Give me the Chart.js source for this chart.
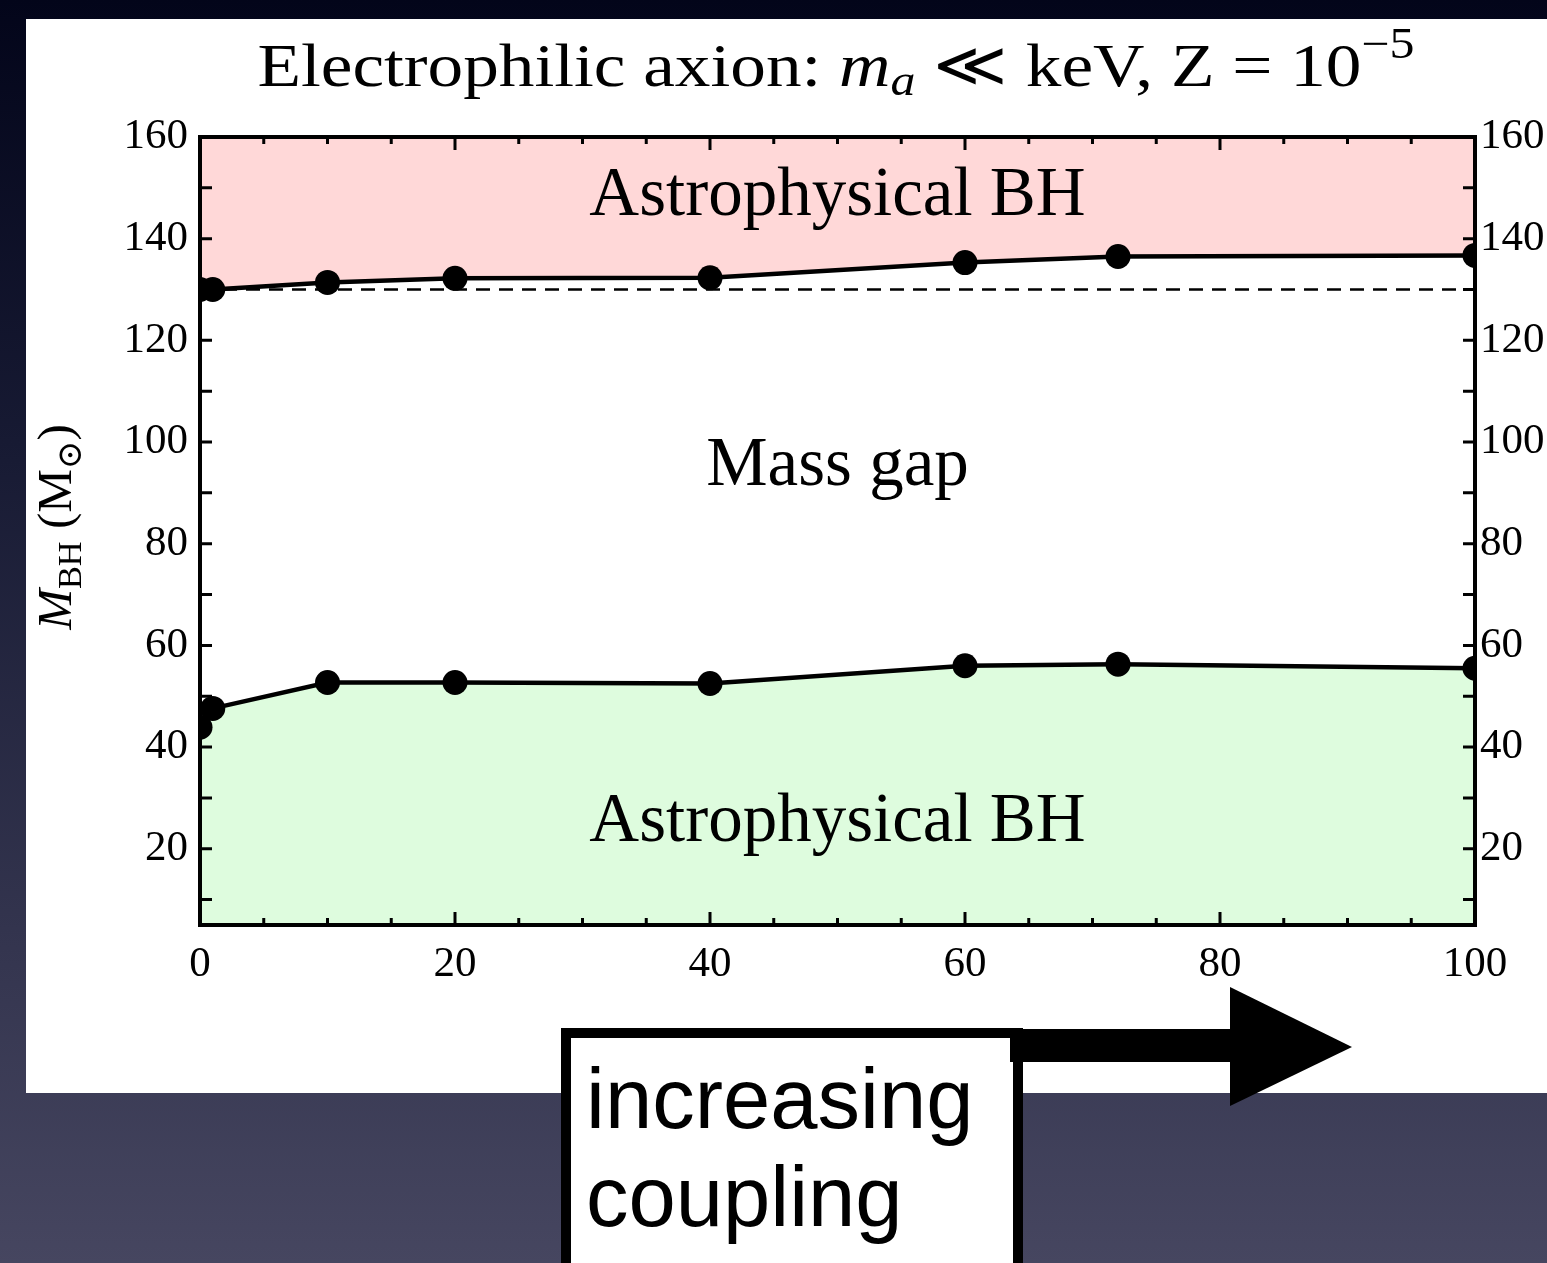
<!DOCTYPE html>
<html>
<head>
<meta charset="utf-8">
<script src="https://cdn.jsdelivr.net/npm/chart.js@4.4.0/dist/chart.umd.min.js"></script>
<style>
html, body { margin: 0; padding: 0; }
body {
    width: 1547px; height: 1263px; overflow: hidden; position: relative;
    background: linear-gradient(#03051a 0%, #171a33 35%, #34354f 75%, #464660 100%);
}
#panel { position: absolute; left: 26px; top: 19px; width: 1521px; height: 1074px; background: #fff; }
#wrap { position: absolute; left: 0; top: 0; width: 1547px; height: 1263px; }
#box {
    position: absolute; left: 561px; top: 1028px; width: 427px; height: 260px;
    border: 10px solid #000; background: #fff;
    font-family: "Liberation Sans", Arial, sans-serif; font-size: 85px; line-height: 98px;
    color: #000; padding-left: 15px; box-sizing: content-box;
}
#box div { margin-top: 12px; }
#arrow { position: absolute; left: 1005px; top: 980px; }
</style>
</head>
<body>
<div id="panel"></div>
<div id="wrap"><canvas id="chart" width="1547" height="1263"></canvas></div>
<div id="box"><div>increasing<br>coupling</div></div>
<svg id="arrow" width="360" height="135">
    <rect x="5" y="49" width="225" height="33" fill="#000"/>
    <polygon points="225,7 347,67 225,126" fill="#000"/>
</svg>
<script>
// values
const couplingX = [0, 1, 10, 20, 40, 60, 72, 100];
const upperEdge = [130.0, 130.0, 131.4, 132.2, 132.3, 135.3, 136.5, 136.7];
const lowerEdge = [43.9, 47.6, 52.7, 52.7, 52.5, 56.0, 56.3, 55.5];
const upperRef = 130;
const lowerRef = 44;
const xRange = [0, 100];
const yRange = [5, 160];
const yTickValues = [20, 40, 60, 80, 100, 120, 140, 160];

const serif = '"Liberation Serif", "DejaVu Serif", serif';

const toPoints = (xs, ys) => xs.map((x, i) => ({x: x, y: ys[i]}));
const flatLine = (v) => xRange.map(x => ({x: x, y: v}));

// draws a run of text pieces (italic, sub/superscript) starting at x
function drawRich(ctx, parts, x, y, size) {
    let cx = x;
    parts.forEach(p => {
        const s = size * (p.scale || 1);
        ctx.font = (p.italic ? 'italic ' : '') + s + 'px ' + serif;
        ctx.fillText(p.t, cx, y + (p.dy || 0) * size);
        cx += ctx.measureText(p.t).width;
    });
}
function richWidth(ctx, parts, size) {
    let w = 0;
    parts.forEach(p => {
        ctx.font = (p.italic ? 'italic ' : '') + size * (p.scale || 1) + 'px ' + serif;
        w += ctx.measureText(p.t).width;
    });
    return w;
}

const titleParts = [
    {t: 'Electrophilic axion: '},
    {t: 'm', italic: true},
    {t: 'a', italic: true, scale: 0.7, dy: 0.15},
    {t: ' \u226A keV, Z = 10'},
    {t: '\u22125', scale: 0.7, dy: -0.45}
];
const yTitleParts = [
    {t: 'M', italic: true},
    {t: 'BH', scale: 0.7, dy: 0.2},
    {t: ' (M'},
    {t: '\u2299', scale: 0.7, dy: 0.2},
    {t: ')'}
];

const framePlugin = {
    id: 'frame',
    afterDatasetsDraw(chart) {
        const ctx = chart.ctx;
        const a = chart.chartArea;
        const xs = chart.scales.x, ys = chart.scales.y;
        ctx.save();
        ctx.strokeStyle = '#000';
        ctx.lineWidth = 3;
        ctx.beginPath();
        for (let v = xRange[0]; v <= xRange[1]; v += 5) {
            const px = xs.getPixelForValue(v);
            const len = v % 20 === 0 ? 13 : 7;
            ctx.moveTo(px, a.bottom); ctx.lineTo(px, a.bottom - len);
            ctx.moveTo(px, a.top); ctx.lineTo(px, a.top + len);
        }
        for (let v = 10; v <= yRange[1]; v += 10) {
            const py = ys.getPixelForValue(v);
            ctx.moveTo(a.left, py); ctx.lineTo(a.left + 12, py);
            ctx.moveTo(a.right, py); ctx.lineTo(a.right - 12, py);
        }
        ctx.stroke();
        ctx.lineWidth = 4;
        ctx.strokeRect(a.left, a.top, a.right - a.left, a.bottom - a.top);

        // region labels
        ctx.fillStyle = '#000';
        ctx.textAlign = 'center';
        ctx.textBaseline = 'alphabetic';
        ctx.font = '69px ' + serif;
        const mid = xs.getPixelForValue(50);
        ctx.fillText('Astrophysical BH', mid, ys.getPixelForValue(144.6));
        ctx.fillText('Mass gap', mid, ys.getPixelForValue(91.6));
        ctx.fillText('Astrophysical BH', mid, ys.getPixelForValue(21.6));

        // title: the figure's serif is wider than Times, so stretch it a bit
        ctx.textAlign = 'left';
        const tSize = 62;
        const plain = richWidth(ctx, titleParts, tSize);
        ctx.save();
        ctx.translate(836, 86);
        ctx.scale(1157 / plain, 1);
        drawRich(ctx, titleParts, -plain / 2, 0, tSize);
        ctx.restore();

        // y axis title
        ctx.translate(71, 527);
        ctx.rotate(-Math.PI / 2);
        const ySize = 49;
        const yw = richWidth(ctx, yTitleParts, ySize);
        drawRich(ctx, yTitleParts, -yw / 2, 0, ySize);
        ctx.restore();
    }
};

const tickFont = {family: serif, size: 43};
const fixedTicks = (scale) => { scale.ticks = yTickValues.map(v => ({value: v})); };

new Chart(document.getElementById('chart'), {
    type: 'line',
    data: {
        datasets: [
            {
                data: toPoints(couplingX, upperEdge),
                borderColor: '#000', borderWidth: 4.5,
                backgroundColor: '#ffd8d8', fill: 'end',
                pointRadius: 12.5, pointBackgroundColor: '#000', pointBorderWidth: 0,
                clip: 0
            },
            {
                data: toPoints(couplingX, lowerEdge),
                borderColor: '#000', borderWidth: 4.5,
                backgroundColor: '#defcde', fill: 'start',
                pointRadius: 12.5, pointBackgroundColor: '#000', pointBorderWidth: 0,
                clip: 0
            },
            {
                data: flatLine(upperRef),
                borderColor: '#000', borderWidth: 2.5, borderDash: [14, 9],
                pointRadius: 0, fill: false
            },
            {
                data: flatLine(lowerRef),
                borderColor: '#000', borderWidth: 2.5, borderDash: [14, 9],
                pointRadius: 0, fill: false
            }
        ]
    },
    options: {
        responsive: false,
        animation: false,
        layout: {padding: {top: 137, left: 0, right: 0, bottom: 0}},
        plugins: {legend: {display: false}, tooltip: {enabled: false}},
        scales: {
            x: {
                type: 'linear', min: xRange[0], max: xRange[1],
                grid: {drawOnChartArea: false, drawTicks: false},
                border: {display: false},
                ticks: {stepSize: 20, font: tickFont, color: '#000', padding: 14, maxRotation: 0},
                afterFit(scale) { scale.height = 338; }
            },
            y: {
                position: 'left', min: yRange[0], max: yRange[1],
                grid: {drawOnChartArea: false, drawTicks: false},
                border: {display: false},
                afterBuildTicks: fixedTicks,
                ticks: {font: tickFont, color: '#000', padding: 12},
                afterFit(scale) { scale.width = 200; }
            },
            y2: {
                position: 'right', min: yRange[0], max: yRange[1],
                grid: {drawOnChartArea: false, drawTicks: false},
                border: {display: false},
                afterBuildTicks: fixedTicks,
                ticks: {font: tickFont, color: '#000', padding: 5},
                afterFit(scale) { scale.width = 72; }
            }
        }
    },
    plugins: [framePlugin]
});
</script>
</body>
</html>
